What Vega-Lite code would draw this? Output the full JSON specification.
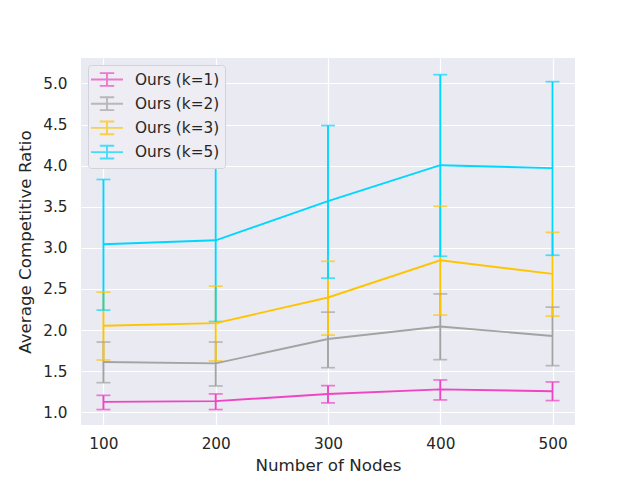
{
  "$schema": "https://vega.github.io/schema/vega-lite/v6.json",
  "width": 494,
  "height": 367,
  "autosize": {"type": "none"},
  "padding": {"left": 81, "top": 58, "right": 65, "bottom": 55},
  "background": "white",
  "config": {
    "font": "DejaVu Sans",
    "view": {"fill": "#EAEAF2", "stroke": null},
    "axis": {
      "domain": false,
      "ticks": false,
      "gridColor": "white",
      "gridWidth": 1.2,
      "labelFont": "DejaVu Sans",
      "labelFontSize": 15.3,
      "labelColor": "#262626",
      "titleFont": "DejaVu Sans",
      "titleFontSize": 16.7,
      "titleColor": "#262626",
      "titleFontWeight": "normal"
    },
    "legend": {
      "orient": "top-left",
      "offset": 7,
      "labelFont": "DejaVu Sans",
      "labelFontSize": 15.3,
      "labelColor": "#262626",
      "fillColor": "#EDEDF3",
      "strokeColor": "#D2D2DA",
      "cornerRadius": 3,
      "padding": 5.5,
      "symbolSize": 256,
      "symbolType": "M-2,0H2M0,-0.8V0.8M-0.9,-0.8H0.9M-0.9,0.8H0.9",
      "symbolStrokeWidth": 1.9,
      "symbolOffset": 4.5,
      "labelOffset": 19,
      "rowPadding": 2.2,
      "labelLimit": 250
    }
  },
  "data": {
    "values": [
      {"series": "Ours (k=1)", "nodes": 100, "mean": 1.126, "lo": 1.033, "hi": 1.206},
      {"series": "Ours (k=1)", "nodes": 200, "mean": 1.135, "lo": 1.033, "hi": 1.223},
      {"series": "Ours (k=1)", "nodes": 300, "mean": 1.223, "lo": 1.114, "hi": 1.324},
      {"series": "Ours (k=1)", "nodes": 400, "mean": 1.279, "lo": 1.150, "hi": 1.393},
      {"series": "Ours (k=1)", "nodes": 500, "mean": 1.255, "lo": 1.142, "hi": 1.369},
      {"series": "Ours (k=2)", "nodes": 100, "mean": 1.612, "lo": 1.360, "hi": 1.854},
      {"series": "Ours (k=2)", "nodes": 200, "mean": 1.595, "lo": 1.320, "hi": 1.854},
      {"series": "Ours (k=2)", "nodes": 300, "mean": 1.891, "lo": 1.542, "hi": 2.218},
      {"series": "Ours (k=2)", "nodes": 400, "mean": 2.044, "lo": 1.640, "hi": 2.440},
      {"series": "Ours (k=2)", "nodes": 500, "mean": 1.927, "lo": 1.567, "hi": 2.279},
      {"series": "Ours (k=3)", "nodes": 100, "mean": 2.052, "lo": 1.636, "hi": 2.461},
      {"series": "Ours (k=3)", "nodes": 200, "mean": 2.085, "lo": 1.624, "hi": 2.534},
      {"series": "Ours (k=3)", "nodes": 300, "mean": 2.396, "lo": 1.939, "hi": 2.837},
      {"series": "Ours (k=3)", "nodes": 400, "mean": 2.849, "lo": 2.182, "hi": 3.505},
      {"series": "Ours (k=3)", "nodes": 500, "mean": 2.683, "lo": 2.170, "hi": 3.189},
      {"series": "Ours (k=5)", "nodes": 100, "mean": 3.044, "lo": 2.243, "hi": 3.832},
      {"series": "Ours (k=5)", "nodes": 200, "mean": 3.092, "lo": 2.104, "hi": 4.046},
      {"series": "Ours (k=5)", "nodes": 300, "mean": 3.569, "lo": 2.631, "hi": 4.488},
      {"series": "Ours (k=5)", "nodes": 400, "mean": 4.006, "lo": 2.898, "hi": 5.107},
      {"series": "Ours (k=5)", "nodes": 500, "mean": 3.970, "lo": 2.910, "hi": 5.022}
    ]
  },
  "encoding": {
    "x": {
      "field": "nodes",
      "type": "quantitative",
      "scale": {"domain": [80, 520], "nice": false, "zero": false},
      "axis": {"values": [100, 200, 300, 400, 500], "format": "d", "title": "Number of Nodes", "labelPadding": 11, "titlePadding": 6}
    },
    "color": {
      "field": "series",
      "type": "nominal",
      "scale": {
        "domain": ["Ours (k=1)", "Ours (k=2)", "Ours (k=3)", "Ours (k=5)"],
        "range": ["#F044C4", "#A3A3A3", "#FFC400", "#00D7FF"]
      },
      "legend": {"title": null}
    }
  },
  "layer": [
    {
      "mark": {"type": "rule", "strokeWidth": 1.9},
      "encoding": {
        "y": {
          "field": "lo",
          "type": "quantitative",
          "scale": {"domain": [0.845, 5.31], "nice": false, "zero": false},
          "axis": {"values": [1, 1.5, 2, 2.5, 3, 3.5, 4, 4.5, 5], "format": ".1f", "title": "Average Competitive Ratio", "labelPadding": 14, "titlePadding": 8}
        },
        "y2": {"field": "hi"}
      }
    },
    {
      "mark": {"type": "tick", "orient": "horizontal", "size": 14, "thickness": 1.7},
      "encoding": {"y": {"field": "lo", "type": "quantitative"}}
    },
    {
      "mark": {"type": "tick", "orient": "horizontal", "size": 14, "thickness": 1.7},
      "encoding": {"y": {"field": "hi", "type": "quantitative"}}
    },
    {
      "mark": {"type": "line", "strokeWidth": 1.9},
      "encoding": {"y": {"field": "mean", "type": "quantitative"}}
    }
  ]
}
